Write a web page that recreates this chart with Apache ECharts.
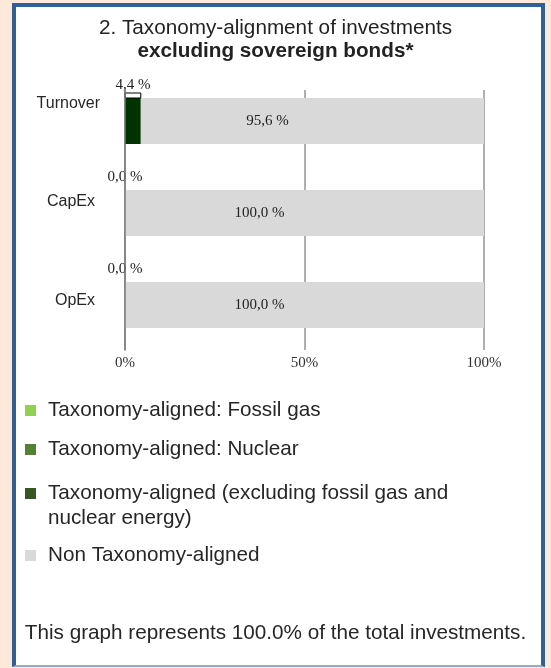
<!DOCTYPE html>
<html><head><meta charset="utf-8">
<script src="https://cdn.jsdelivr.net/npm/echarts@6/dist/echarts.min.js"></script>
<style>
html,body{margin:0;padding:0;background:#fde9d9;}
#frame{position:absolute;left:12px;top:3px;width:525px;height:658px;border:4px solid #365f91;border-bottom:2px solid #95abc9;background:#fff;}
#c{position:absolute;left:0;top:0;width:551px;height:668px;}
</style>
</head><body><div id="frame"></div><div id="c"></div>
<script>
// ---- data ----
const categories = ['Turnover', 'CapEx', 'OpEx'];
const fossilGas = [0, 0, 0];
const nuclear = [0, 0, 0];
const alignedExcl = [4.4, 0, 0];
const nonAligned = [95.6, 100, 100];
const axisMin = 0, axisMax = 100, axisStep = 50;
const legendNames = [
  'Taxonomy-aligned: Fossil gas',
  'Taxonomy-aligned: Nuclear',
  'Taxonomy-aligned (excluding fossil gas and\nnuclear energy)',
  'Non Taxonomy-aligned'
];
const titleLine1 = '2. Taxonomy-alignment of investments';
const titleLine2 = 'excluding sovereign bonds*';
const footerText = 'This graph represents 100.0% of the total investments.';

// ---- styles ----
const seriesColors = ['#92d050', '#548235', '#003300', '#d9d9d9'];
const legendColors = ['#92d050', '#548235', '#375623', '#d9d9d9'];
const legendTops = [398, 437, 456, 543];
const catLabelPad = [[0, 0, 34, 0], [0, 5, 22, 0], [0, 5, 8, 0]];
const SANS = 'Arial, "Liberation Sans", Helvetica, sans-serif';
const SERIF = '"Times New Roman", "Liberation Serif", serif';
const FS = 20.7;
const fmt = v => v.toFixed(1).replace('.', ',') + ' %';

const chart = echarts.init(document.getElementById('c'), null, {renderer: 'canvas'});

const catRich = {};
categories.forEach((c, i) => {
  catRich['l' + i] = {fontFamily: SANS, fontSize: 16, color: '#262626', padding: catLabelPad[i]};
});

const legTok = {fontFamily: SANS, fontSize: FS, color: '#262626', lineHeight: 25};
const legends = legendNames.map((n, i) => ({
  orient: 'vertical', left: 25, top: legendTops[i], padding: 0,
  itemWidth: 11, itemHeight: 11, selectedMode: false,
  icon: 'rect',
  data: [{name: n, itemStyle: {color: legendColors[i]}}],
  formatter: name => {
    const lines = name.split('\n');
    const body = lines.map(l => '{a|' + l + '}').join('\n');
    return lines.length > 1 ? '{e| }\n' + body : body;
  },
  textStyle: {fontFamily: SANS, fontSize: FS, color: '#262626', lineHeight: 25,
    padding: [0, 0, 0, 7],
    rich: {a: legTok, e: {fontSize: 10, lineHeight: 25}}}
}));

const option = {
  backgroundColor: 'transparent',
  animation: false,
  title: [{
    text: '{a|' + titleLine1 + '}\n{b|' + titleLine2 + '}',
    left: 'center', top: 17, padding: 0,
    textStyle: {fontWeight: 'normal', rich: {
      a: {fontFamily: SANS, fontSize: FS, fontWeight: 'normal', color: '#222', lineHeight: 23},
      b: {fontFamily: SANS, fontSize: FS, fontWeight: 'bold', color: '#222', lineHeight: 23}
    }}
  }, {
    text: footerText, left: 'center', top: 623, padding: 0,
    textStyle: {fontFamily: SANS, fontSize: FS, fontWeight: 'normal', color: '#262626'}
  }],
  legend: legends,
  grid: [
    {left: 125, right: 67, top: 75, height: 276},
    {left: 125, right: 67, top: 90, height: 260}
  ],
  xAxis: [
    {type: 'value', gridIndex: 0, min: axisMin, max: axisMax, show: false},
    {type: 'value', gridIndex: 1, min: axisMin, max: axisMax, interval: axisStep,
      axisLine: {show: false}, axisTick: {show: false},
      splitLine: {show: true, lineStyle: {color: '#959595', width: 1.5}},
      axisLabel: {formatter: '{value}%', fontFamily: SERIF, fontSize: 15, color: '#333', margin: 6}}
  ],
  yAxis: [
    {type: 'category', gridIndex: 0, inverse: true, data: categories,
      axisLine: {show: false}, axisTick: {show: false},
      axisLabel: {margin: 25, formatter: (v, i) => '{l' + i + '|' + v + '}', rich: catRich}},
    {type: 'value', gridIndex: 1, z: 10,
      axisLine: {show: true, lineStyle: {color: '#7a7a7a', width: 1.5}},
      axisTick: {show: false}, axisLabel: {show: false}, splitLine: {show: false}}
  ],
  series: [
    {name: legendNames[0], type: 'bar', stack: 's', barWidth: 46, xAxisIndex: 0, yAxisIndex: 0,
      data: fossilGas, itemStyle: {color: seriesColors[0]}, label: {show: false}},
    {name: legendNames[1], type: 'bar', stack: 's', barWidth: 46, xAxisIndex: 0, yAxisIndex: 0,
      data: nuclear, itemStyle: {color: seriesColors[1]}, label: {show: false}},
    {name: legendNames[2], type: 'bar', stack: 's', barWidth: 46, xAxisIndex: 0, yAxisIndex: 0,
      data: alignedExcl.map(v => ({value: v, label: {distance: v > 0 ? 0 : 5}})),
      itemStyle: {color: seriesColors[2]},
      label: {show: true, position: 'top',
        formatter: p => p.value > 0 ? '{t|' + fmt(p.value) + '}\n{b| }' : '{t|' + fmt(p.value) + '}',
        rich: {
          t: {fontFamily: SERIF, fontSize: 15, color: '#222', lineHeight: 15},
          b: {width: 16, height: 5, lineHeight: 5, fontSize: 1, borderColor: '#000', borderWidth: 1}
        }}},
    {name: legendNames[3], type: 'bar', stack: 's', barWidth: 46, xAxisIndex: 0, yAxisIndex: 0,
      data: nonAligned, itemStyle: {color: seriesColors[3]},
      label: {show: true, position: 'inside', offset: [-45, 0], formatter: p => fmt(p.value),
        fontFamily: SERIF, fontSize: 15, color: '#222'}}
  ]
};
chart.setOption(option);
const bw = chart.convertToPixel({xAxisIndex: 0}, alignedExcl[0]) - chart.convertToPixel({xAxisIndex: 0}, 0);
chart.setOption({series: [{}, {}, {label: {rich: {b: {width: bw}}}}, {}]});
</script>
</body></html>
